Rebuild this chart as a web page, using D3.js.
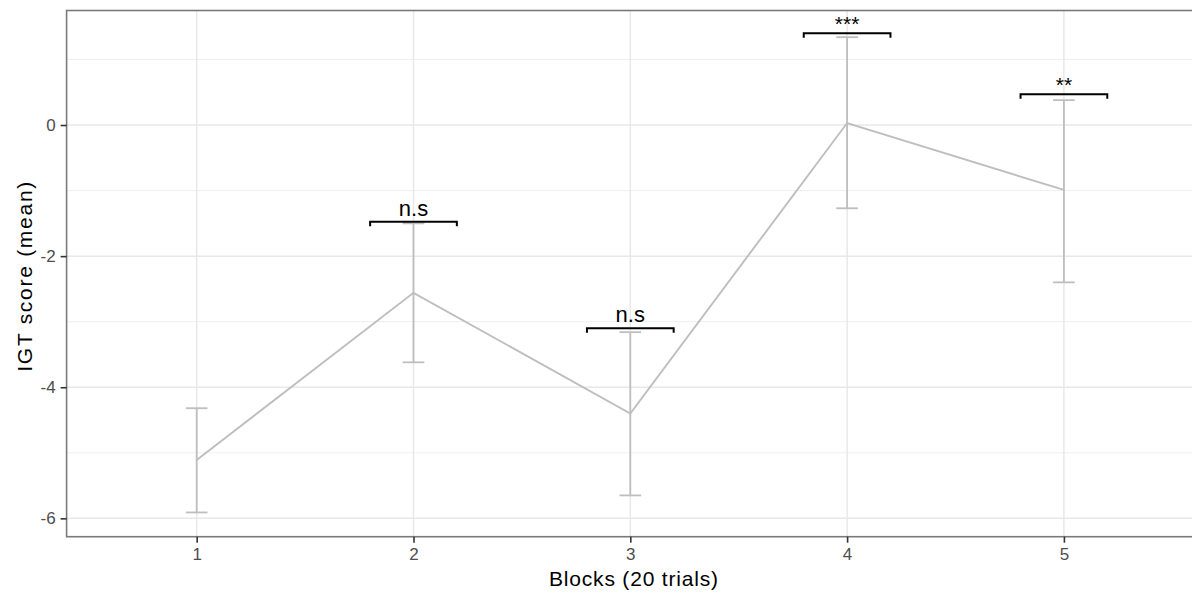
<!DOCTYPE html>
<html>
<head>
<meta charset="utf-8">
<script src="https://cdn.jsdelivr.net/npm/d3@7"></script>
<style>
  body { margin: 0; background: #fff; }
  svg { display: block; font-family: "Liberation Sans", Arial, sans-serif; }
</style>
</head>
<body>
<svg id="chart" width="1192" height="595"></svg>
<script>
// IGT score per block of 20 trials: mean with error bar limits
const blocks = [1, 2, 3, 4, 5];
const meanScore = [-5.11, -2.56, -4.40, 0.03, -0.99];
const upperScore = [-4.32, -1.50, -3.16, 1.34, 0.38];
const lowerScore = [-5.91, -3.62, -5.65, -1.27, -2.40];

// significance brackets above blocks 2–5
const sigBlocks = [2, 3, 4, 5];
const sigLevel = [-1.475, -3.10, 1.40, 0.47];
const sigLabels = ["n.s", "n.s", "***", "**"];

const yTicks = [0, -2, -4, -6];
const yMinor = [1, -1, -3, -5];

const svg = d3.select("#chart");
const panel = { left: 66.6, top: 10.5, right: 1194, bottom: 536.7 };

const x = d3.scaleLinear().domain([0.4, 5.6]).range([panel.left, panel.right]);
const y = d3.scaleLinear().domain([-6.28, 1.747]).range([panel.bottom, panel.top]);

// grid
const grid = svg.append("g");
grid.selectAll(".ymin").data(yMinor).join("line")
  .attr("x1", panel.left).attr("x2", panel.right)
  .attr("y1", d => y(d)).attr("y2", d => y(d))
  .attr("stroke", "#ebebeb").attr("stroke-width", 0.8);
grid.selectAll(".ymaj").data(yTicks).join("line")
  .attr("x1", panel.left).attr("x2", panel.right)
  .attr("y1", d => y(d)).attr("y2", d => y(d))
  .attr("stroke", "#e8e8e8").attr("stroke-width", 1.5);
grid.selectAll(".xmaj").data(blocks).join("line")
  .attr("y1", panel.top).attr("y2", panel.bottom)
  .attr("x1", d => x(d)).attr("x2", d => x(d))
  .attr("stroke", "#e8e8e8").attr("stroke-width", 1.5);

// error bars
const capHalf = 0.05;
const eb = svg.append("g").attr("stroke", "#bebebe").attr("stroke-width", 1.8).attr("fill", "none");
blocks.forEach((b, i) => {
  eb.append("line").attr("x1", x(b)).attr("x2", x(b))
    .attr("y1", y(upperScore[i])).attr("y2", y(lowerScore[i]));
  eb.append("line").attr("x1", x(b - capHalf)).attr("x2", x(b + capHalf))
    .attr("y1", y(upperScore[i])).attr("y2", y(upperScore[i]));
  eb.append("line").attr("x1", x(b - capHalf)).attr("x2", x(b + capHalf))
    .attr("y1", y(lowerScore[i])).attr("y2", y(lowerScore[i]));
});

// mean line
const line = d3.line().x((d, i) => x(blocks[i])).y(d => y(d));
svg.append("path").datum(meanScore)
  .attr("d", line).attr("fill", "none")
  .attr("stroke", "#bebebe").attr("stroke-width", 1.9);

// significance brackets
const br = svg.append("g");
const bracketHalf = 0.2, tickDrop = 0.07;
sigBlocks.forEach((b, i) => {
  const yl = sigLevel[i];
  br.append("path")
    .attr("d", `M${x(b - bracketHalf)},${y(yl - tickDrop)}V${y(yl)}H${x(b + bracketHalf)}V${y(yl - tickDrop)}`)
    .attr("fill", "none").attr("stroke", "#000").attr("stroke-width", 2);
  const isStar = sigLabels[i].startsWith("*");
  br.append("text")
    .attr("x", x(b)).attr("y", isStar ? y(yl) - 2 : y(yl) - 6)
    .attr("text-anchor", "middle")
    .attr("font-size", isStar ? 21 : 22)
    .attr("fill", "#000")
    .text(sigLabels[i]);
});

// panel border
svg.append("rect")
  .attr("x", panel.left).attr("y", panel.top)
  .attr("width", panel.right - panel.left).attr("height", panel.bottom - panel.top)
  .attr("fill", "none").attr("stroke", "#7a7a7a").attr("stroke-width", 1.6);

// axes
const fmt = d => String(d);
const xAxis = svg.append("g").attr("transform", `translate(0,${panel.bottom})`)
  .call(d3.axisBottom(x).tickValues(blocks).tickSize(6).tickPadding(5).tickFormat(fmt));
const yAxis = svg.append("g").attr("transform", `translate(${panel.left},0)`)
  .call(d3.axisLeft(y).tickValues(yTicks).tickSize(6).tickPadding(5).tickFormat(fmt));
[xAxis, yAxis].forEach(a => {
  a.select(".domain").remove();
  a.selectAll(".tick line").attr("stroke", "#333").attr("stroke-width", 1.6);
  a.selectAll(".tick text").attr("fill", "#4d4d4d").attr("font-size", 17)
    .attr("font-family", "Liberation Sans, Arial, sans-serif");
});

// axis titles
svg.append("text")
  .attr("x", 633.5).attr("y", 586)
  .attr("text-anchor", "middle").attr("font-size", 21).attr("fill", "#000")
  .attr("textLength", 169).attr("lengthAdjust", "spacing")
  .text("Blocks (20 trials)");
svg.append("text")
  .attr("transform", `translate(32,${276.7}) rotate(-90)`)
  .attr("text-anchor", "middle").attr("font-size", 21).attr("fill", "#000")
  .attr("textLength", 190).attr("lengthAdjust", "spacing")
  .text("IGT score (mean)");
</script>
</body>
</html>
